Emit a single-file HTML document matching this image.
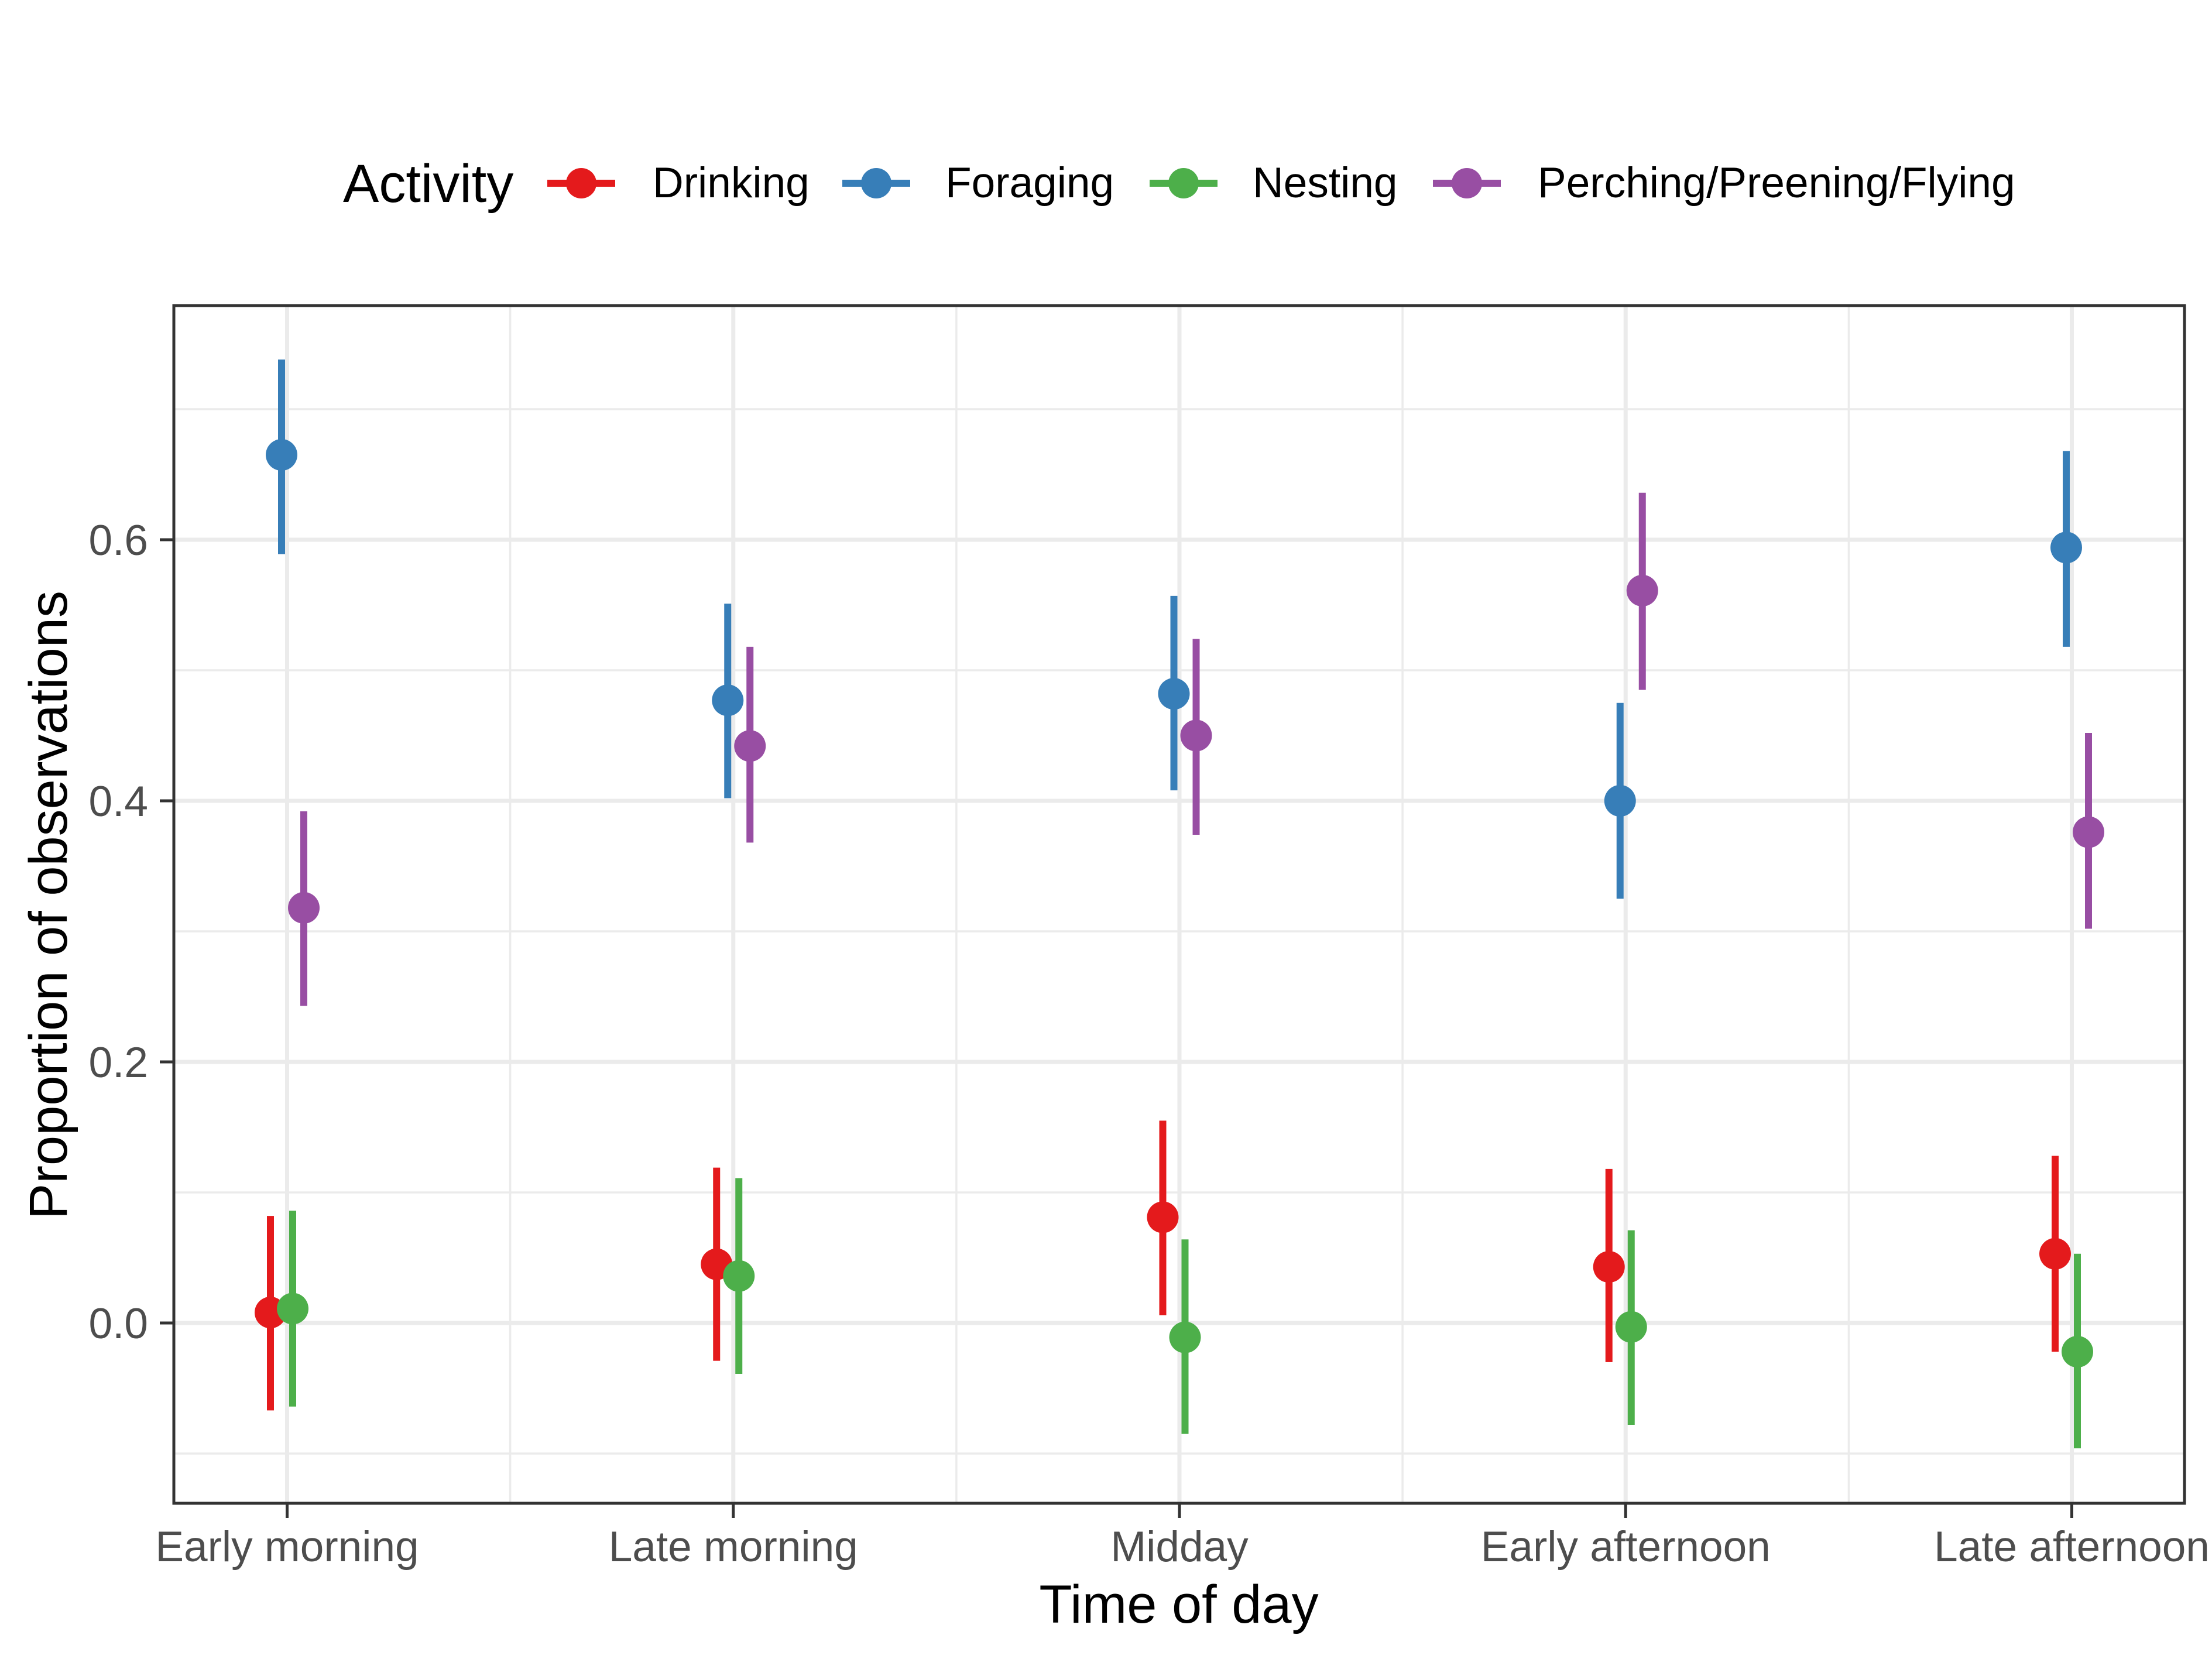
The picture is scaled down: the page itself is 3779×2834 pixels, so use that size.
<!DOCTYPE html>
<html><head><meta charset="utf-8"><style>
html,body{margin:0;padding:0;background:#fff;}
svg{display:block;font-family:"Liberation Sans",Arial,sans-serif;}
</style></head><body>
<svg id="chart" width="3779" height="2834" viewBox="0 0 3779 2834" xmlns="http://www.w3.org/2000/svg">
<rect x="0" y="0" width="3779" height="2834" fill="#fff"/>
<g id="grid"></g>
<g id="marks"></g>
<rect x="297" y="522" width="3435" height="2046" fill="none" stroke="#333" stroke-width="5"/>
<g id="axes"></g>
<text x="2014" y="2772" font-size="92" text-anchor="middle" fill="#000">Time of day</text>
<text transform="translate(114,1546) rotate(-90)" font-size="92" text-anchor="middle" fill="#000">Proportion of observations</text>
<g id="legend">
<text x="586" y="345" font-size="92" fill="#000">Activity</text>
</g>
</svg>
<script>
const categories = ["Early morning","Late morning","Midday","Early afternoon","Late afternoon"];
const seriesNames = ["Drinking","Foraging","Nesting","Perching/Preening/Flying"];
const colors = ["#E41A1C","#377EB8","#4DAF4A","#984EA3"];
const drinking = [0.008,0.045,0.081,0.043,0.053];
const drinkingLo = [-0.067,-0.029,0.006,-0.030,-0.022];
const drinkingHi = [0.082,0.119,0.155,0.118,0.128];
const foraging = [0.665,0.477,0.482,0.400,0.594];
const foragingLo = [0.589,0.402,0.408,0.325,0.518];
const foragingHi = [0.738,0.551,0.557,0.475,0.668];
const nesting = [0.011,0.036,-0.011,-0.003,-0.022];
const nestingLo = [-0.064,-0.039,-0.085,-0.078,-0.096];
const nestingHi = [0.086,0.111,0.064,0.071,0.053];
const perching = [0.318,0.442,0.450,0.561,0.376];
const perchingLo = [0.243,0.368,0.374,0.485,0.302];
const perchingHi = [0.392,0.518,0.524,0.636,0.452];
const yTicks = [0.0,0.2,0.4,0.6];
const yTickLabels = ["0.0","0.2","0.4","0.6"];
const yMinor = [-0.1,0.1,0.3,0.5,0.7];

const NS="http://www.w3.org/2000/svg";
const PL=297, PR=3732, PT=522, PB=2568;
const xScale = i => 490.5 + i*762.25;
const yScale = v => 2260 - v*2230;
function mk(tag, attrs, parent){const e=document.createElementNS(NS,tag);for(const k in attrs)e.setAttribute(k,attrs[k]);parent.appendChild(e);return e;}
const grid=document.getElementById('grid'), marks=document.getElementById('marks'), axes=document.getElementById('axes'), legend=document.getElementById('legend');

yMinor.forEach(v=>{const l=mk('line',{x1:PL,x2:PR,y1:yScale(v),y2:yScale(v),stroke:'#EBEBEB','stroke-width':3.5},grid);

});
for(let i=0;i<categories.length-1;i++){const x=xScale(i+0.5);const l=mk('line',{x1:x,x2:x,y1:PT,y2:PB,stroke:'#EBEBEB','stroke-width':3.5},grid);

}
yTicks.forEach((v,i)=>{const y=yScale(v);
const l=mk('line',{x1:PL,x2:PR,y1:y,y2:y,stroke:'#EBEBEB','stroke-width':7},grid);


const t=mk('line',{x1:273,x2:PL,y1:y,y2:y,stroke:'#333','stroke-width':5},axes);


const tx=mk('text',{x:253,y:y+26,'font-size':73,'text-anchor':'end',fill:'#4D4D4D'},axes);tx.textContent=yTickLabels[i];

});
categories.forEach((c,i)=>{const x=xScale(i);
const l=mk('line',{x1:x,x2:x,y1:PT,y2:PB,stroke:'#EBEBEB','stroke-width':7},grid);


const t=mk('line',{x1:x,x2:x,y1:PB,y2:2593,stroke:'#333','stroke-width':5},axes);


const tx=mk('text',{x:x,y:2667,'font-size':73,'text-anchor':'middle',fill:'#4D4D4D'},axes);tx.textContent=c;

});

const vals=[drinking,foraging,nesting,perching], los=[drinkingLo,foragingLo,nestingLo,perchingLo], his=[drinkingHi,foragingHi,nestingHi,perchingHi];
const offsets=[-28.5,-9.5,9.5,28.5];
vals.forEach((s,k)=>{s.forEach((v,i)=>{const x=xScale(i)+offsets[k];
const e=mk('line',{x1:x,x2:x,y1:yScale(los[k][i]),y2:yScale(his[k][i]),stroke:colors[k],'stroke-width':12},marks);


const p=mk('circle',{cx:x,cy:yScale(v),r:27,fill:colors[k]},marks);

});});

const keyX=[993,1497,2022,2506], textX=[1115,1615,2140,2627];
seriesNames.forEach((n,k)=>{
const l=mk('line',{x1:keyX[k]-58,x2:keyX[k]+58,y1:313,y2:313,stroke:colors[k],'stroke-width':12},legend);


const c=mk('circle',{cx:keyX[k],cy:313,r:26,fill:colors[k]},legend);


const t=mk('text',{x:textX[k],y:337,'font-size':73,fill:'#000'},legend);t.textContent=n;

});
</script>
</body></html>
